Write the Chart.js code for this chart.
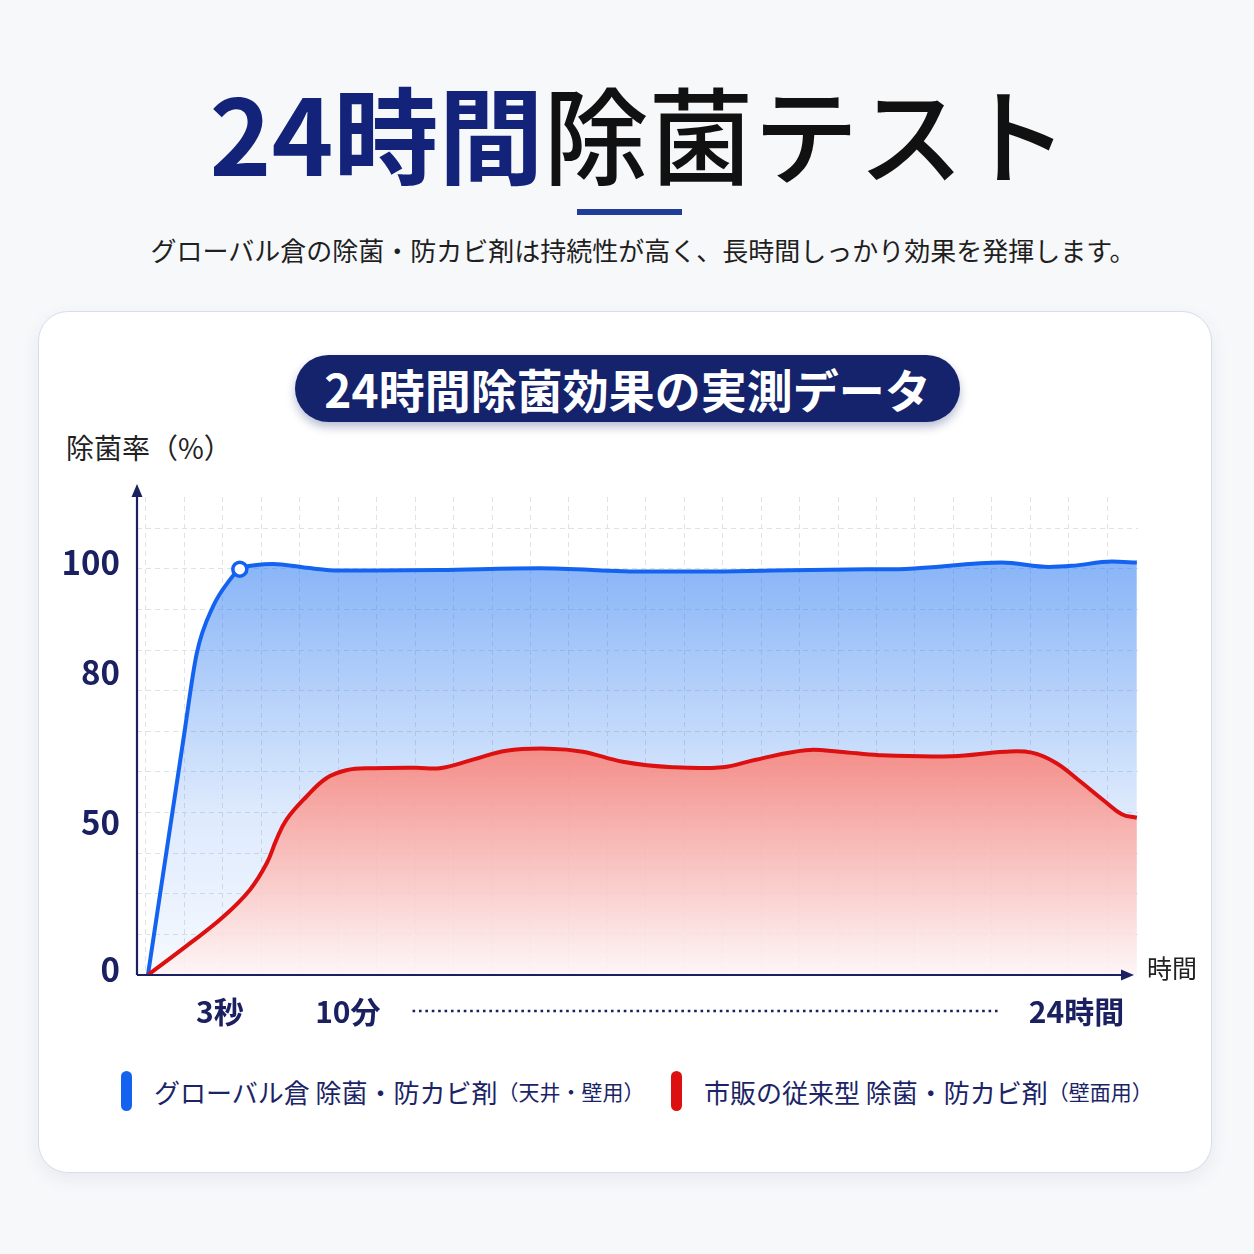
<!DOCTYPE html>
<html lang="ja">
<head>
<meta charset="utf-8">
<script src="https://cdn.jsdelivr.net/npm/chart.js@4.4.1/dist/chart.umd.min.js"></script>
<style>
	html, body { margin: 0; padding: 0; }
	body {
		width: 1254px;
		height: 1254px;
		position: relative;
		background: #f7f8fa;
		font-family: "Noto Sans CJK JP", "Noto Sans", sans-serif;
		overflow: hidden;
	}
	.title {
		position: absolute;
		left: 12px; width: 1254px; top: 78px;
		text-align: center;
		font-size: 105px;
		line-height: 1;
		white-space: nowrap;
	}
	.title .em { color: #14237a; font-weight: 700; }
	.title .rest { color: #111; font-weight: 500; }
	.bar { position: absolute; left: 577px; top: 209px; width: 105px; height: 6px; background: #1f3d99; }
	.sub {
		position: absolute; left: 16px; width: 1254px; top: 232px;
		text-align: center; font-size: 26px; color: #1f1f1f; line-height: 36px; white-space: nowrap;
	}
	.card {
		position: absolute; left: 38px; top: 311px; width: 1172px; height: 860px;
		background: #fff; border: 1.5px solid #d6ddec; border-radius: 30px;
		box-shadow: 0 6px 18px rgba(40, 60, 120, 0.08);
	}
	.pill {
		position: absolute; left: 295px; top: 355px; width: 665px; height: 67px;
		border-radius: 34px; background: #14236b;
		box-shadow: 0 5px 10px rgba(20, 35, 107, 0.3);
		color: #fff; font-weight: 700; font-size: 46px; line-height: 67px;
		text-align: center; white-space: nowrap;
	}
	.ytitle { position: absolute; left: 66px; top: 428px; font-size: 28px; color: #222; line-height: 38px; white-space: nowrap; }
	.xtitle { position: absolute; left: 1147px; top: 951px; font-size: 25px; color: #222; line-height: 32px; }
	#chart { position: absolute; left: 40px; top: 460px; }
	.legend { position: absolute; top: 1070px; height: 42px; display: flex; align-items: center; white-space: nowrap; color: #1b2466; }
	.legend .swatch { width: 11px; height: 40px; border-radius: 6px; margin-right: 22px; }
	.legend .name { font-size: 26px; }
	.legend .note { font-size: 21px; }
</style>
</head>
<body>
<div class="title"><span class="em">24時間</span><span class="rest">除菌テスト</span></div>
<div class="bar"></div>
<div class="sub">グローバル倉の除菌・防カビ剤は持続性が高く、長時間しっかり効果を発揮します。</div>
<div class="card"></div>
<div class="pill">24時間除菌効果の実測データ</div>
<div class="ytitle">除菌率（%）</div>
<canvas id="chart" width="1170" height="600"></canvas>
<div class="xtitle">時間</div>
<div class="legend" style="left:121px"><div class="swatch" style="background:#1463f0"></div><span class="name">グローバル倉 除菌・防カビ剤</span><span class="note">（天井・壁用）</span></div>
<div class="legend" style="left:671px"><div class="swatch" style="background:#dc1010"></div><span class="name">市販の従来型 除菌・防カビ剤</span><span class="note">（壁面用）</span></div>
<script>
// series: position on the time axis -> sterilization rate (%)
const GLOBAL_TIME = [0.05, 0.97, 1.32, 1.74, 2.18, 2.44, 2.88, 3.3, 4.17, 5.04, 5.9, 7.64, 10.23, 13.0, 14.56, 16.29, 18.3, 19.76, 22.26, 23.48, 24.08, 25.12, 25.77];
const GLOBAL_RATE = [0, 67.7, 84.6, 93.1, 98.0, 99.95, 100.7, 100.9, 100.2, 99.7, 99.7, 99.8, 100.1, 99.5, 99.5, 99.7, 99.9, 100.0, 101.15, 100.36, 100.55, 101.33, 101.15];
const MARKET_TIME = [0.05, 1.14, 2.01, 2.7, 3.14, 3.39, 3.65, 4.17, 4.69, 5.21, 5.9, 7.03, 7.64, 8.5, 9.37, 10.49, 11.36, 12.4, 13.69, 14.99, 15.86, 17.16, 18.03, 19.07, 20.96, 22.35, 23.04, 23.66, 24.26, 24.95, 25.38, 25.77];
const MARKET_RATE = [0, 10.8, 19.9, 29.1, 38.2, 46.2, 51.8, 56.4, 60.1, 61.7, 62.1, 62.2, 62.1, 63.8, 65.6, 66.0, 65.4, 63.4, 62.3, 62.3, 63.8, 65.7, 65.4, 64.7, 64.5, 65.4, 65.2, 63.2, 59.7, 55.4, 52.9, 52.2];
const MARKER_TIME = 2.44; // 3秒 point

const Y_TICKS = [0, 50, 80, 100];
const X_TICK_LABELS = ["3秒", "10分", "24時間"];
const X_TICK_AT = [1.92, 5.25, 24.2];

const NAVY = "#1b2160";
const GRID = "#dfe2e9";

// broken y axis: each value band gets its own height (in grid rows)
const Y_ROWS = 11.77;
const Y_STOPS = [[0, 0], [50, 3.6], [80, 7.3], [100, 10], [113.1, 11.77]];

function rowOf(v) {
	for (let i = 1; i < Y_STOPS.length; i++) {
		const [v0, r0] = Y_STOPS[i - 1];
		const [v1, r1] = Y_STOPS[i];
		if (v <= v1 || i === Y_STOPS.length - 1) return r0 + ((v - v0) / (v1 - v0)) * (r1 - r0);
	}
}
function valOf(r) {
	for (let i = 1; i < Y_STOPS.length; i++) {
		const [v0, r0] = Y_STOPS[i - 1];
		const [v1, r1] = Y_STOPS[i];
		if (r <= r1 || i === Y_STOPS.length - 1) return v0 + ((r - r0) / (r1 - r0)) * (v1 - v0);
	}
}

class BrokenScale extends Chart.LinearScale {
	getPixelForValue(value) {
		return this.getPixelForDecimal(rowOf(value) / Y_ROWS);
	}
	getValueForPixel(pixel) {
		return valOf(this.getDecimalForPixel(pixel) * Y_ROWS);
	}
}
BrokenScale.id = "broken";
BrokenScale.defaults = Chart.LinearScale.defaults;
Chart.register(BrokenScale);

const toPoints = (xs, ys) => xs.map((x, i) => ({ x: x, y: ys[i] }));

function gradient(ctx, stops) {
	const area = ctx.chart.chartArea;
	if (!area) return "transparent";
	const g = ctx.chart.ctx.createLinearGradient(0, area.top, 0, area.bottom);
	stops.forEach(([at, color]) => g.addColorStop(at, color));
	return g;
}

// axis lines with arrows + dotted run between 10分 and 24時間
const axisDecor = {
	id: "axisDecor",
	afterDraw(chart) {
		const { ctx, chartArea: a, scales } = chart;
		ctx.save();
		ctx.strokeStyle = NAVY;
		ctx.fillStyle = NAVY;
		ctx.lineWidth = 2.2;
		ctx.beginPath();
		ctx.moveTo(a.left, a.bottom);
		ctx.lineTo(a.left, a.top - 6);
		ctx.moveTo(a.left, a.bottom);
		ctx.lineTo(a.right - 12, a.bottom);
		ctx.stroke();
		ctx.beginPath();
		ctx.moveTo(a.left, a.top - 13);
		ctx.lineTo(a.left - 5.5, a.top);
		ctx.lineTo(a.left + 5.5, a.top);
		ctx.closePath();
		ctx.fill();
		ctx.beginPath();
		ctx.moveTo(a.right - 4, a.bottom);
		ctx.lineTo(a.right - 17, a.bottom - 5.5);
		ctx.lineTo(a.right - 17, a.bottom + 5.5);
		ctx.closePath();
		ctx.fill();

		const x = scales.x;
		ctx.font = "700 30px 'Noto Sans CJK JP'";
		const from = x.getPixelForValue(X_TICK_AT[1]) + ctx.measureText(X_TICK_LABELS[1]).width / 2 + 32;
		const to = x.getPixelForValue(X_TICK_AT[2]) - ctx.measureText(X_TICK_LABELS[2]).width / 2 - 30;
		const y = a.bottom + 36;
		ctx.setLineDash([2.6, 3.8]);
		ctx.lineWidth = 2.6;
		ctx.beginPath();
		ctx.moveTo(from, y);
		ctx.lineTo(to, y);
		ctx.stroke();
		ctx.restore();
	},
};

const gridColor = (c) => (c.tick && c.tick.isLabel ? "rgba(0,0,0,0)" : GRID);

new Chart(document.getElementById("chart"), {
	type: "line",
	data: {
		datasets: [
			{
				label: "グローバル倉 除菌・防カビ剤（天井・壁用）",
				data: toPoints(GLOBAL_TIME, GLOBAL_RATE),
				borderColor: "#1463f0",
				borderWidth: 4,
				cubicInterpolationMode: "monotone",
				fill: "origin",
				backgroundColor: (c) =>
					gradient(c, [
						[0, "rgba(40,120,240,0.6)"],
						[0.15, "rgba(40,120,240,0.54)"],
						[0.4, "rgba(40,120,240,0.35)"],
						[0.65, "rgba(40,120,240,0.16)"],
						[1, "rgba(40,120,240,0.04)"],
					]),
				pointRadius: (c) => (c.raw && c.raw.x === MARKER_TIME ? 7 : 0),
				pointBackgroundColor: "#fff",
				pointBorderColor: "#1463f0",
				pointBorderWidth: 3.5,
				order: 2,
			},
			{
				label: "市販の従来型 除菌・防カビ剤（壁面用）",
				data: toPoints(MARKET_TIME, MARKET_RATE),
				borderColor: "#dc1010",
				borderWidth: 4,
				tension: 0.4,
				fill: "origin",
				backgroundColor: (c) =>
					gradient(c, [
						[0.5, "rgba(247,128,120,0.92)"],
						[0.78, "rgba(251,192,188,0.88)"],
						[1, "rgba(255,245,245,0.85)"],
					]),
				pointRadius: 0,
				order: 1,
			},
		],
	},
	options: {
		responsive: false,
		animation: false,
		layout: { padding: { top: 37, right: 72, left: 0, bottom: 0 } },
		plugins: { legend: { display: false }, tooltip: { enabled: false } },
		scales: {
			x: {
				type: "linear",
				min: -0.234,
				max: 25.8,
				grid: { color: gridColor, lineWidth: 1, drawTicks: false },
				border: { display: false, dash: [5, 4] },
				afterBuildTicks: (s) => {
					const ticks = [];
					for (let k = 0; k <= 25; k++) ticks.push({ value: k });
					X_TICK_AT.forEach((v, i) => ticks.push({ value: v, isLabel: true, text: X_TICK_LABELS[i] }));
					s.ticks = ticks;
				},
				afterFit: (s) => {
					s.height = 85;
				},
				ticks: {
					autoSkip: false,
					maxRotation: 0,
					padding: 19,
					color: NAVY,
					font: { family: "'Noto Sans CJK JP'", size: 30, weight: "700" },
					callback: (v, i, ticks) => (ticks[i].isLabel ? ticks[i].text : ""),
				},
			},
			y: {
				type: "broken",
				min: 0,
				max: 113.1,
				grid: { color: gridColor, lineWidth: 1, drawTicks: false },
				border: { display: false, dash: [5, 4] },
				afterBuildTicks: (s) => {
					const ticks = [];
					for (let k = 1; k <= 11; k++) ticks.push({ value: valOf(k) });
					Y_TICKS.forEach((v) => ticks.push({ value: v, isLabel: true }));
					s.ticks = ticks;
				},
				afterFit: (s) => {
					s.width = 97;
				},
				ticks: {
					autoSkip: false,
					padding: 17,
					labelOffset: -6,
					color: NAVY,
					font: { family: "'Noto Sans CJK JP'", size: 33, weight: "700" },
					callback: (v, i, ticks) => (ticks[i].isLabel ? String(v) : ""),
				},
			},
		},
	},
	plugins: [axisDecor],
});
</script>
</body>
</html>
